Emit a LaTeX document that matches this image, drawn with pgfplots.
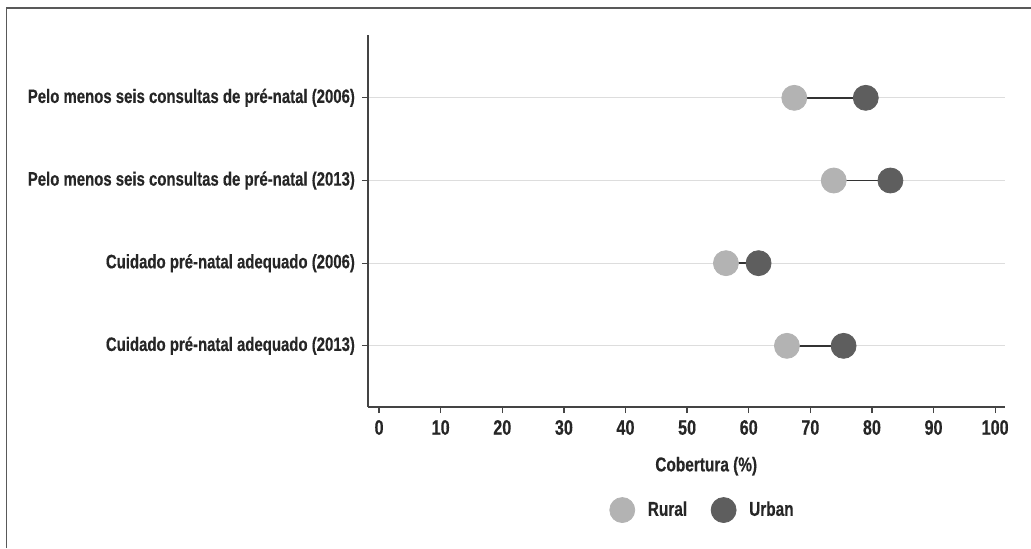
\documentclass[border=0pt]{standalone}
\usepackage{pgfplots}
\pgfplotsset{compat=1.18}
\usepackage{fontspec}
\setmainfont{Liberation Sans}[UprightFont={* Bold}, BoldFont={* Bold}, FakeStretch=0.77, FakeBold=0.4]

\definecolor{rural}{HTML}{B3B3B3}
\definecolor{urban}{HTML}{5E5E5E}
\definecolor{gridc}{HTML}{DDDDDD}
\definecolor{axisc}{HTML}{444444}

\begin{document}
\begin{tikzpicture}
\useasboundingbox (-184pt,-70.5pt) rectangle (331.5pt,203.5pt);
% frame round the figure (top and left only)
\draw[line width=0.8pt, color=black!65] (-180.75pt,-70.5pt) -- (-180.75pt,199.6pt) -- (331.5pt,199.6pt);
\begin{axis}[
	at={(0,0)}, anchor=south west,
	scale only axis,
	width=318.5pt, height=186pt,
	xmin=-1.8, xmax=101.6,
	ymin=0.26, ymax=4.76,
	axis x line=bottom, axis y line=left,
	axis line style={-, color=axisc, line width=0.65pt},
	tick style={color=axisc, line width=0.65pt},
	tick align=outside,
	major tick length=3pt,
	xtick={0,10,...,100},
	ytick={1,2,3,4},
	yticklabels={Cuidado pré-natal adequado (2013), Cuidado pré-natal adequado (2006), Pelo menos seis consultas de pré-natal (2013), Pelo menos seis consultas de pré-natal (2006)},
	/pgf/number format/assume math mode=true,
	ticklabel style={font=\fontsize{10.5}{12}\selectfont, color=black!85},
	yticklabel style={font=\fontsize{9.7}{11}\selectfont},
	ymajorgrids,
	grid style={color=gridc, line width=0.65pt},
	xlabel={Cobertura (\%)},
	xlabel style={at={(axis description cs:0.531,-0.159)}, anchor=center, font=\fontsize{10}{12}\selectfont, color=black!85},
	legend columns=2,
	legend style={at={(0.527,-0.277)}, anchor=center, draw=none, fill=none,
		font=\fontsize{10}{12}\selectfont, text=black!85,
		/tikz/every even column/.append style={column sep=10pt}},
	clip=false,
]
% connecting segments
\addplot[forget plot, color=black!80, line width=0.75pt] coordinates {(67.4,4) (79.0,4)};
\addplot[forget plot, color=black!80, line width=0.75pt] coordinates {(73.8,3) (83.0,3)};
\addplot[forget plot, color=black!80, line width=0.75pt] coordinates {(56.3,2) (61.6,2)};
\addplot[forget plot, color=black!80, line width=0.75pt] coordinates {(66.2,1) (75.4,1)};
% rural
\addplot[only marks, mark=*, mark size=6.25pt, color=rural, mark options={draw=rural, fill=rural}]
	coordinates {(67.4,4) (73.8,3) (56.3,2) (66.2,1)};
% urban
\addplot[only marks, mark=*, mark size=6.25pt, color=urban, mark options={draw=urban, fill=urban}]
	coordinates {(79.0,4) (83.0,3) (61.6,2) (75.4,1)};
\legend{\hspace{4.5pt}Rural, \hspace{4.5pt}Urban}
\end{axis}
\end{tikzpicture}
\end{document}
